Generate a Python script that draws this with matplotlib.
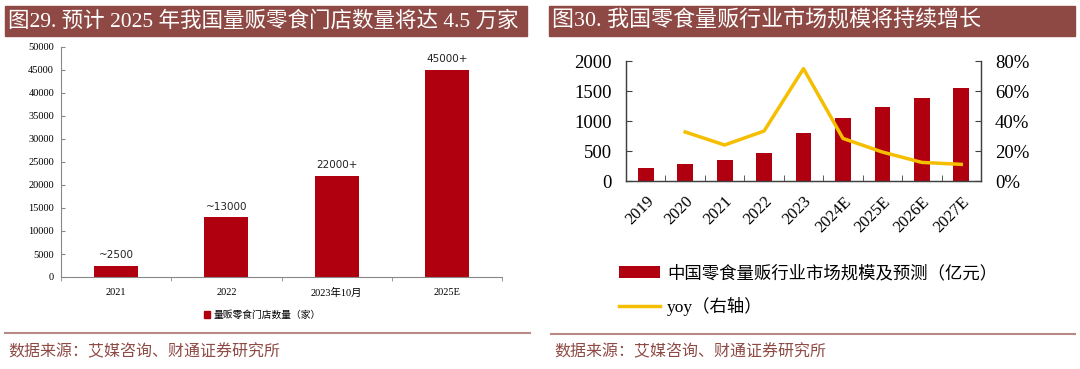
import matplotlib
matplotlib.use("Agg")
import matplotlib.pyplot as plt
from matplotlib.patches import Rectangle, Patch
from matplotlib.lines import Line2D
from matplotlib.ticker import FuncFormatter
import numpy as np

plt.rcParams['font.family'] = ['Liberation Serif', 'Noto Sans CJK SC']

# left chart data
store_cats = ['2021', '2022', '2023年10月', '2025E']
store_counts = [2500, 13000, 22000, 45000]
store_labels = ['~2500', '~13000', '22000+', '45000+']

# right chart data
mkt_years = ['2019', '2020', '2021', '2022', '2023', '2024E', '2025E', '2026E', '2027E']
mkt_size = [211, 278, 350, 461, 806, 1044, 1239, 1389, 1544]
mkt_yoy = [np.nan, 0.327, 0.240, 0.333, 0.749, 0.284, 0.193, 0.124, 0.111]

RED = '#B0000F'
GOLD = '#F5BE00'
BAR_BG = '#8E4944'
SRC = '#8E4A44'
W, H = 1080, 369

fig = plt.figure(figsize=(W / 100, H / 100), dpi=100)
fig.patch.set_facecolor('white')

def fx(px):
    return px / W

def fy(py):
    return 1 - py / H

cjk = ['Liberation Serif', 'Noto Sans CJK SC']

# title bars
for x0, x1, title, fs in [(5, 527, '图29. 预计 2025 年我国量贩零食门店数量将达 4.5 万家', 15.5),
                          (549, 1075, '图30. 我国零食量贩行业市场规模将持续增长', 15.8)]:
    fig.patches.append(Rectangle((fx(x0), fy(36)), fx(x1 - x0), 30 / H,
                                 transform=fig.transFigure, color=BAR_BG, zorder=0))
    fig.text(fx(x0 + 3), fy(21), title, color='white', fontsize=fs,
             va='center', ha='left', family=cjk)

# separators and sources
for x0, x1, y in [(5, 530, 333), (551, 1075, 334)]:
    fig.add_artist(Line2D([fx(x0), fx(x1)], [fy(y), fy(y)], transform=fig.transFigure,
                          color='#B98A85', lw=1.5))
    fig.text(fx(x0 + 3), fy(352), '数据来源：艾媒咨询、财通证券研究所', color=SRC,
             fontsize=11.5, va='center', ha='left', family=['Noto Sans CJK SC'])

# ---------- left chart ----------
ax1 = fig.add_axes([fx(61), fy(277), fx(502 - 61), (277 - 47) / H])
x = np.arange(len(store_cats))
bars = ax1.bar(x, store_counts, width=0.4, color=RED, zorder=2)
for b, lab in zip(bars, store_labels):
    ax1.annotate(lab, (b.get_x() + b.get_width() / 2, b.get_height()),
                 xytext=(0, 4), textcoords='offset points', ha='center', va='bottom',
                 fontsize=7.5, color='#222222', family=['DejaVu Sans'])
ax1.set_xlim(-0.5, len(store_cats) - 0.5)
ax1.set_ylim(0, 50000)
ax1.set_yticks(np.arange(0, 50001, 5000))
ax1.set_xticks(x)
ax1.set_xticklabels(store_cats, family=cjk)
ax1.set_xticks(np.arange(-0.5, len(store_cats)), minor=True)
ax1.tick_params(axis='x', which='major', length=0, labelsize=7.5, pad=8)
ax1.tick_params(axis='x', which='minor', length=3, direction='out', color='#888888')
ax1.tick_params(axis='y', length=3, direction='in', labelsize=7.5, pad=5, color='#888888')
for s in ['top', 'right']:
    ax1.spines[s].set_visible(False)
for s in ['left', 'bottom']:
    ax1.spines[s].set_color('#888888')
    ax1.spines[s].set_linewidth(0.8)

fig.legend(handles=[Patch(color=RED, label='量贩零食门店数量（家）')],
           loc='center', bbox_to_anchor=(fx(262), fy(315)), frameon=False,
           handlelength=0.7, handleheight=0.7, handletextpad=0.3,
           prop={'family': ['Noto Sans CJK SC'], 'size': 7})

# ---------- right chart ----------
ax2 = fig.add_axes([fx(626), fy(181), fx(981 - 626), (181 - 61) / H])
x2 = np.arange(len(mkt_years))
ax2.bar(x2, mkt_size, width=0.4, color=RED, zorder=2,
        label='中国零食量贩行业市场规模及预测（亿元）')
ax2.set_xlim(-0.5, len(mkt_years) - 0.5)
ax2.set_ylim(0, 2000)
ax2.set_yticks(np.arange(0, 2001, 500))
ax2.set_xticks(x2)
ax2.set_xticklabels(mkt_years, rotation=45, ha='right', rotation_mode='anchor')
ax2.set_xticks(np.arange(-0.5, len(mkt_years)), minor=True)
ax2.tick_params(axis='x', which='major', length=0, labelsize=12, pad=9)
ax2.tick_params(axis='x', which='minor', length=4, direction='in', color='#404040')
ax2.tick_params(axis='y', length=4, direction='in', labelsize=13.5, pad=10, color='#404040')
ax2.spines['top'].set_visible(False)

ax3 = ax2.twinx()
ax3.plot(x2, mkt_yoy, color=GOLD, lw=2.5, label='yoy（右轴）', zorder=3)
ax3.set_ylim(0, 0.8)
ax3.set_yticks(np.arange(0, 0.81, 0.2))
ax3.yaxis.set_major_formatter(FuncFormatter(lambda v, p: f'{v * 100:.0f}%'))
ax3.tick_params(axis='y', length=4, direction='in', labelsize=13.5, pad=10, color='#404040')
ax3.spines['top'].set_visible(False)
for a in (ax2, ax3):
    for s in a.spines.values():
        s.set_color('#404040')
        s.set_linewidth(0.9)

h1, l1 = ax2.get_legend_handles_labels()
h2, l2 = ax3.get_legend_handles_labels()
fig.legend(h1 + h2, l1 + l2, loc='upper left', bbox_to_anchor=(fx(603), fy(250)),
           frameon=False, handlelength=2.4, handleheight=0.65, handletextpad=0.4,
           labelspacing=0.85, prop={'family': cjk, 'size': 12.5})

fig.savefig('out.png', dpi=100)
